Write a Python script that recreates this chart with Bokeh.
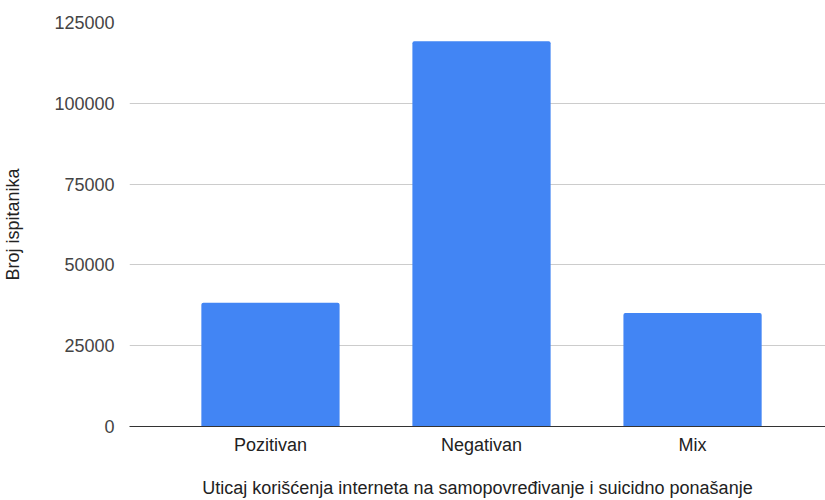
from bokeh.plotting import figure
from bokeh.models import Range1d, FixedTicker, NumeralTickFormatter, ColumnDataSource
from bokeh.embed import file_html
from bokeh.resources import INLINE

categories = ["Pozitivan", "Negativan", "Mix"]
values = [38300, 119200, 35100]
y_ticks = [0, 25000, 50000, 75000, 100000, 125000]
x_title = "Uticaj korišćenja interneta na samopovređivanje i suicidno ponašanje"
y_title = "Broj ispitanika"

FONT = "Liberation Sans"
xs = list(range(len(categories)))
src = ColumnDataSource(dict(x=xs, top=values, cat=categories))

p = figure(width=825, height=500, output_backend="svg", toolbar_location=None,
           x_range=Range1d(-0.668, 2.630), y_range=Range1d(0, y_ticks[-1]),
           min_border_left=126, min_border_right=0, min_border_top=22, min_border_bottom=74)
p.vbar(x="x", top="top", width=0.655, source=src, fill_color="#4285F4",
       line_color=None, border_radius=(2, 2, 0, 0))

p.outline_line_color = None
p.background_fill_color = "white"
p.border_fill_color = "white"
p.xgrid.visible = False
p.ygrid.ticker = FixedTicker(ticks=y_ticks)
p.ygrid.grid_line_color = "#cccccc"
p.ygrid.grid_line_width = 1

xa = p.xaxis[0]
xa.ticker = FixedTicker(ticks=xs)
xa.major_label_overrides = {x: c for x, c in zip(xs, categories)}
xa.axis_line_color = "#333333"
xa.axis_line_width = 1
xa.major_tick_line_color = None
xa.minor_tick_line_color = None
xa.major_label_standoff = 2
xa.major_label_text_font = FONT
xa.major_label_text_font_size = "18px"
xa.major_label_text_color = "#222222"
xa.axis_label = x_title
xa.axis_label_standoff = 20
xa.axis_label_text_font = FONT
xa.axis_label_text_font_size = "18px"
xa.axis_label_text_font_style = "normal"
xa.axis_label_text_color = "#222222"

ya = p.yaxis[0]
ya.ticker = FixedTicker(ticks=y_ticks)
ya.formatter = NumeralTickFormatter(format="0")
ya.axis_line_color = None
ya.major_tick_line_color = None
ya.minor_tick_line_color = None
ya.major_label_standoff = 9
ya.major_label_text_font = FONT
ya.major_label_text_font_size = "18px"
ya.major_label_text_color = "#444444"
ya.axis_label = y_title
ya.axis_label_standoff = 28
ya.axis_label_text_font = FONT
ya.axis_label_text_font_size = "18px"
ya.axis_label_text_font_style = "normal"
ya.axis_label_text_color = "#222222"

open("out.html", "w").write(file_html(p, INLINE))
